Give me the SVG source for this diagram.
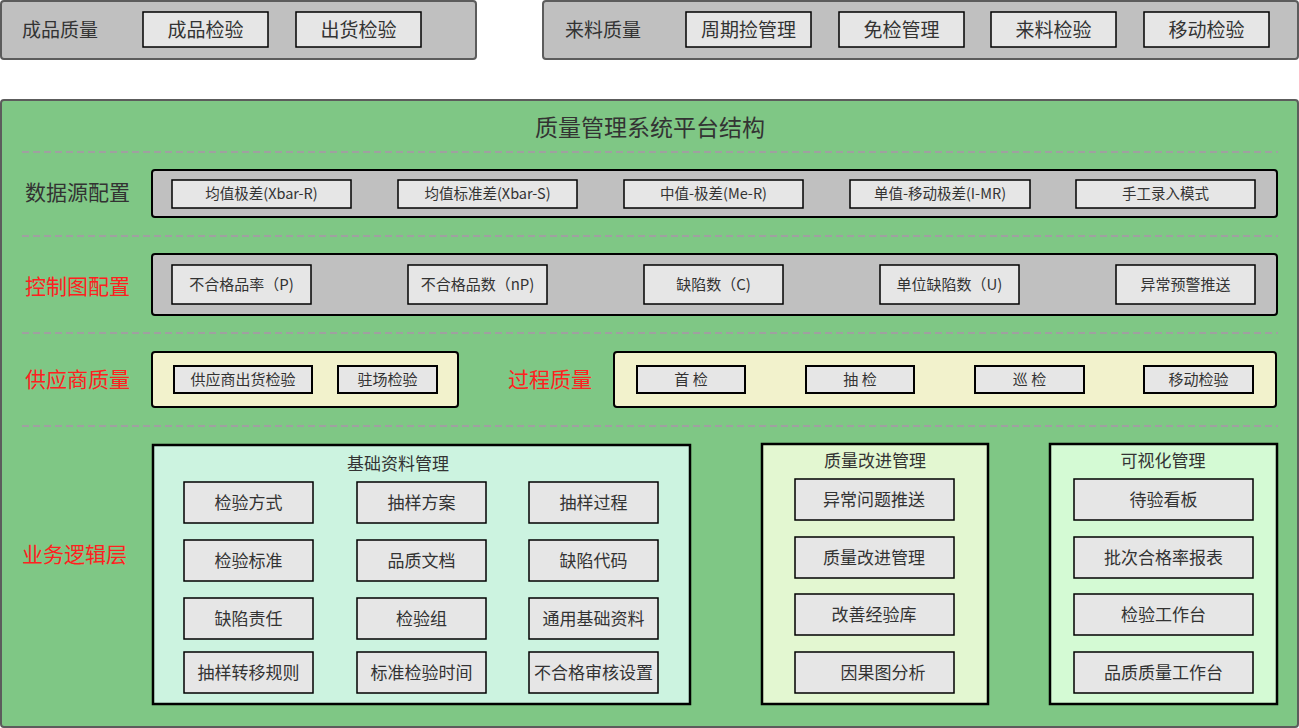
<svg xmlns="http://www.w3.org/2000/svg" width="1299" height="728" viewBox="0 0 1299 728">
<style>
text{font-family:"Noto Sans CJK SC","Noto Sans",sans-serif;fill:#333;text-anchor:middle;dominant-baseline:central;transform:translateY(-2px)}
.outer{fill:#c0c0c0;stroke:#5c5c5c;stroke-width:2}
.item{fill:#e6e6e6;stroke:#000;stroke-width:1.5}
.bar{fill:#c0c0c0;stroke:#000;stroke-width:2}
.yel{fill:#f2f2cc;stroke:#000;stroke-width:2}
.dash{stroke:#a0a0a0;stroke-width:2;stroke-dasharray:7 4;fill:none}
.red{fill:#ff2020;font-size:21px;text-anchor:start}
.lab{font-size:21px;text-anchor:start}
.t19{font-size:19px}
.t15{font-size:15px}
.t14{font-size:14.5px}
.t17{font-size:17px}
</style>
<g id="finished">
<rect class="outer" x="1" y="1" width="475" height="58" rx="3"/>
<text x="22" y="30" class="t19" style="text-anchor:start">成品质量</text>
<rect class="item" x="143" y="12" width="125" height="35"/><text x="205.5" y="30" class="t19">成品检验</text>
<rect class="item" x="296" y="12" width="125" height="35"/><text x="358.5" y="30" class="t19">出货检验</text>
</g>
<g id="incoming">
<rect class="outer" x="543" y="1" width="755" height="58" rx="3"/>
<text x="565" y="30" class="t19" style="text-anchor:start">来料质量</text>
<rect class="item" x="686" y="12" width="125" height="35"/><text x="748.5" y="30" class="t19">周期捡管理</text>
<rect class="item" x="839" y="12" width="125" height="35"/><text x="901.5" y="30" class="t19">免检管理</text>
<rect class="item" x="991" y="12" width="125" height="35"/><text x="1053.5" y="30" class="t19">来料检验</text>
<rect class="item" x="1144" y="12" width="125" height="35"/><text x="1206.5" y="30" class="t19">移动检验</text>
</g>
<g id="platform">
<rect x="1" y="100" width="1297" height="627" rx="3" fill="#7fc785" stroke="#5c5c5c" stroke-width="2"/>
<text x="650" y="128" style="font-size:23px">质量管理系统平台结构</text>
</g>
<g id="separators">
<line class="dash" x1="22" y1="152" x2="1278" y2="152"/>
<line class="dash" x1="22" y1="236" x2="1278" y2="236"/>
<line class="dash" x1="22" y1="333" x2="1278" y2="333"/>
<line class="dash" x1="22" y1="426" x2="1278" y2="426"/>
</g>
<g id="datasource">
<text x="25" y="193" class="lab">数据源配置</text>
<rect class="bar" x="152" y="170" width="1125" height="47" rx="3"/>
<rect class="item" x="172" y="180" width="179" height="28"/><text x="261.5" y="194" class="t14">均值极差(Xbar-R)</text>
<rect class="item" x="398" y="180" width="179" height="28"/><text x="487.5" y="194" class="t14">均值标准差(Xbar-S)</text>
<rect class="item" x="624" y="180" width="179" height="28"/><text x="713.5" y="194" class="t14">中值-极差(Me-R)</text>
<rect class="item" x="850" y="180" width="180" height="28"/><text x="940" y="194" class="t14">单值-移动极差(I-MR)</text>
<rect class="item" x="1076" y="180" width="179" height="28"/><text x="1165.5" y="194" class="t14">手工录入模式</text>
</g>
<g id="controlchart">
<text x="25" y="287" class="red">控制图配置</text>
<rect class="bar" x="152" y="254" width="1125" height="61" rx="3"/>
<rect class="item" x="172" y="265" width="139" height="39"/><text x="241.5" y="285" class="t15">不合格品率（P)</text>
<rect class="item" x="408" y="265" width="139" height="39"/><text x="477.5" y="285" class="t15">不合格品数（nP)</text>
<rect class="item" x="644" y="265" width="139" height="39"/><text x="713.5" y="285" class="t15">缺陷数（C)</text>
<rect class="item" x="880" y="265" width="139" height="39"/><text x="949.5" y="285" class="t15">单位缺陷数（U)</text>
<rect class="item" x="1116" y="265" width="139" height="39"/><text x="1185.5" y="285" class="t15">异常预警推送</text>
</g>
<g id="supplier">
<text x="25" y="380" class="red">供应商质量</text>
<rect class="yel" x="152" y="352" width="306" height="55" rx="3"/>
<rect class="item" x="174" y="366" width="138" height="27" style="stroke-width:2"/><text x="243" y="380" class="t15">供应商出货检验</text>
<rect class="item" x="338" y="366" width="99" height="27" style="stroke-width:2"/><text x="387.5" y="380" class="t15">驻场检验</text>
</g>
<g id="process">
<text x="508" y="380" class="red">过程质量</text>
<rect class="yel" x="614" y="352" width="662" height="55" rx="3"/>
<rect class="item" x="637" y="366" width="108" height="27" style="stroke-width:2"/><text x="691" y="380" class="t15">首 检</text>
<rect class="item" x="806" y="366" width="108" height="27" style="stroke-width:2"/><text x="860" y="380" class="t15">抽 检</text>
<rect class="item" x="975" y="366" width="109" height="27" style="stroke-width:2"/><text x="1029.5" y="380" class="t15">巡 检</text>
<rect class="item" x="1144" y="366" width="109" height="27" style="stroke-width:2"/><text x="1198.5" y="380" class="t15">移动检验</text>
</g>
<text x="22" y="555" class="red">业务逻辑层</text>
<g id="basic">
<rect x="153" y="445" width="537" height="259" fill="#ccf3e0" stroke="#000" stroke-width="2.5"/>
<text x="398" y="464" class="t17">基础资料管理</text>
<rect class="item" x="184" y="482" width="129" height="41"/><text x="248.5" y="503" class="t17">检验方式</text>
<rect class="item" x="357" y="482" width="129" height="41"/><text x="421.5" y="503" class="t17">抽样方案</text>
<rect class="item" x="529" y="482" width="129" height="41"/><text x="593.5" y="503" class="t17">抽样过程</text>
<rect class="item" x="184" y="540" width="129" height="41"/><text x="248.5" y="561" class="t17">检验标准</text>
<rect class="item" x="357" y="540" width="129" height="41"/><text x="421.5" y="561" class="t17">品质文档</text>
<rect class="item" x="529" y="540" width="129" height="41"/><text x="593.5" y="561" class="t17">缺陷代码</text>
<rect class="item" x="184" y="598" width="129" height="41"/><text x="248.5" y="619" class="t17">缺陷责任</text>
<rect class="item" x="357" y="598" width="129" height="41"/><text x="421.5" y="619" class="t17">检验组</text>
<rect class="item" x="529" y="598" width="129" height="41"/><text x="593.5" y="619" class="t17">通用基础资料</text>
<rect class="item" x="184" y="652" width="129" height="41"/><text x="248.5" y="673" class="t17">抽样转移规则</text>
<rect class="item" x="357" y="652" width="129" height="41"/><text x="421.5" y="673" class="t17">标准检验时间</text>
<rect class="item" x="529" y="652" width="129" height="41"/><text x="593.5" y="673" class="t17">不合格审核设置</text>
</g>
<g id="improve">
<rect x="762" y="444" width="226" height="260" fill="#e3f7d1" stroke="#000" stroke-width="2.5"/>
<text x="875" y="461" class="t17">质量改进管理</text>
<rect class="item" x="795" y="479" width="159" height="41"/><text x="874" y="500" class="t17">异常问题推送</text>
<rect class="item" x="795" y="537" width="159" height="41"/><text x="874" y="558" class="t17">质量改进管理</text>
<rect class="item" x="795" y="594" width="159" height="41"/><text x="874" y="615" class="t17">改善经验库</text>
<rect class="item" x="795" y="652" width="159" height="41"/><text x="883" y="673" class="t17">因果图分析</text>
</g>
<g id="visual">
<rect x="1050" y="444" width="227" height="260" fill="#d4fad4" stroke="#000" stroke-width="2.5"/>
<text x="1163" y="461" class="t17">可视化管理</text>
<rect class="item" x="1074" y="479" width="179" height="41"/><text x="1163.5" y="500" class="t17">待验看板</text>
<rect class="item" x="1074" y="537" width="179" height="41"/><text x="1163.5" y="558" class="t17">批次合格率报表</text>
<rect class="item" x="1074" y="594" width="179" height="41"/><text x="1163.5" y="615" class="t17">检验工作台</text>
<rect class="item" x="1074" y="652" width="179" height="41"/><text x="1163.5" y="673" class="t17">品质质量工作台</text>
</g>
<g id="connectors"></g>
</svg>
